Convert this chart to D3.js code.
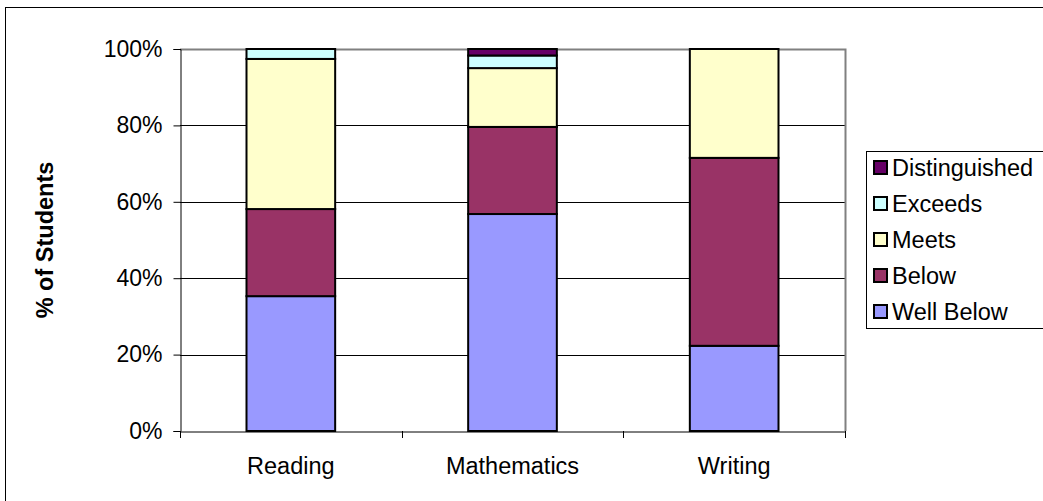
<!DOCTYPE html>
<html><head><meta charset="utf-8">
<script src="https://cdn.jsdelivr.net/npm/d3@7"></script>
<style>body{margin:0;background:#fff}svg{display:block}text{font-family:Arial,"Liberation Sans",sans-serif}</style>
</head><body><svg id="c" width="1043" height="501"></svg>
<script>
const categories = ["Reading", "Mathematics", "Writing"];
const seriesNames = ["Well Below", "Below", "Meets", "Exceeds", "Distinguished"];
const wellBelow = [35.3, 56.8, 22.3];
const below = [22.8, 22.8, 49.2];
const meets = [39.3, 15.4, 28.5];
const exceeds = [2.6, 3.3, 0];
const distinguished = [0, 1.7, 0];
const colors = ["#9999FF", "#993366", "#FFFFCC", "#CCFFFF", "#660066"];
const yTicks = [0, 20, 40, 60, 80, 100];

const seriesValues = [wellBelow, below, meets, exceeds, distinguished];
const rows = categories.map((c, i) => {
  const r = {cat: c};
  seriesNames.forEach((s, k) => r[s] = seriesValues[k][i]);
  return r;
});
const stacked = d3.stack().keys(seriesNames)(rows);

const svg = d3.select("#c");
const L = 180, R = 845, T = 49, B = 431;

// outer frame
svg.append("rect").attr("x", 5.5).attr("y", 7.5).attr("width", 1100).attr("height", 600)
  .attr("fill", "#fff").attr("stroke", "#000").attr("stroke-width", 1);

const x = d3.scaleBand().domain(categories).range([L, R]).padding(0);
const y = d3.scaleLinear().domain([0, 100]).range([B, T]);
const bw = x.bandwidth() * 0.4;

// gridlines
svg.append("g").selectAll("line").data(yTicks.filter(t => t > 0 && t < 100)).join("line")
  .attr("x1", L).attr("x2", R)
  .attr("y1", d => Math.round(y(d)) + 0.5).attr("y2", d => Math.round(y(d)) + 0.5)
  .attr("stroke", "#000").attr("stroke-width", 1);

// plot area border top & right (gray)
svg.append("path").attr("d", `M${L},${T + 0.5}H${R + 0.5}V${B}`)
  .attr("fill", "none").attr("stroke", "#808080").attr("stroke-width", 2);

// bars
svg.append("g").selectAll("g").data(stacked).join("g")
  .attr("fill", (d, i) => colors[i])
  .selectAll("rect").data(d => d.filter(p => p[1] - p[0] > 0)).join("rect")
  .attr("x", d => x(d.data.cat) + (x.bandwidth() - bw) / 2)
  .attr("width", bw)
  .attr("y", d => y(d[1]))
  .attr("height", d => y(d[0]) - y(d[1]))
  .attr("stroke", "#000").attr("stroke-width", 2);

// y axis
const yAxis = d3.axisLeft(y).tickValues(yTicks).tickFormat(d => d + "%").tickSize(7).tickPadding(11);
const gy = svg.append("g").attr("transform", `translate(${L + 0.5},0)`).call(yAxis);
gy.select(".domain").attr("stroke", "#000");
gy.selectAll(".tick line").attr("stroke", "#000");
gy.selectAll("text").attr("font-size", 23).attr("fill", "#000").style("font-family", "Arial, 'Liberation Sans', sans-serif");

// x axis
const xAxis = d3.axisBottom(x).tickSize(0).tickPadding(0);
const gx = svg.append("g").attr("transform", `translate(0,${B + 0.5})`).call(xAxis);
gx.select(".domain").attr("stroke", "#000");
gx.selectAll("text").attr("font-size", 23.5).attr("fill", "#000").attr("dy", null).attr("y", 42)
  .style("font-family", "Arial, 'Liberation Sans', sans-serif");
// category boundary ticks
const bounds = categories.map(c => x(c)).concat([R]);
svg.append("g").selectAll("line").data(bounds).join("line")
  .attr("x1", d => Math.round(d) + 0.5).attr("x2", d => Math.round(d) + 0.5)
  .attr("y1", B).attr("y2", B + 7).attr("stroke", "#000");

// y title
svg.append("text").attr("transform", `translate(45,${(T + B) / 2}) rotate(-90)`)
  .attr("text-anchor", "middle").attr("dominant-baseline", "central")
  .attr("font-size", 23.5).attr("font-weight", "bold").text("% of Students");

// legend
const lg = svg.append("g");
lg.append("rect").attr("x", 866.5).attr("y", 151.5).attr("width", 300).attr("height", 177)
  .attr("fill", "#fff").attr("stroke", "#000").attr("stroke-width", 1);
const legendOrder = seriesNames.slice().reverse();
const items = lg.selectAll("g.it").data(legendOrder).join("g").attr("class", "it")
  .attr("transform", (d, i) => `translate(0,${168 + i * 36})`);
items.append("rect").attr("x", 874).attr("y", -7).attr("width", 13).attr("height", 13)
  .attr("fill", d => colors[seriesNames.indexOf(d)]).attr("stroke", "#000").attr("stroke-width", 2);
items.append("text").attr("x", 892).attr("y", 0).attr("dominant-baseline", "central")
  .attr("font-size", 23.5).text(d => d);
</script></body></html>
